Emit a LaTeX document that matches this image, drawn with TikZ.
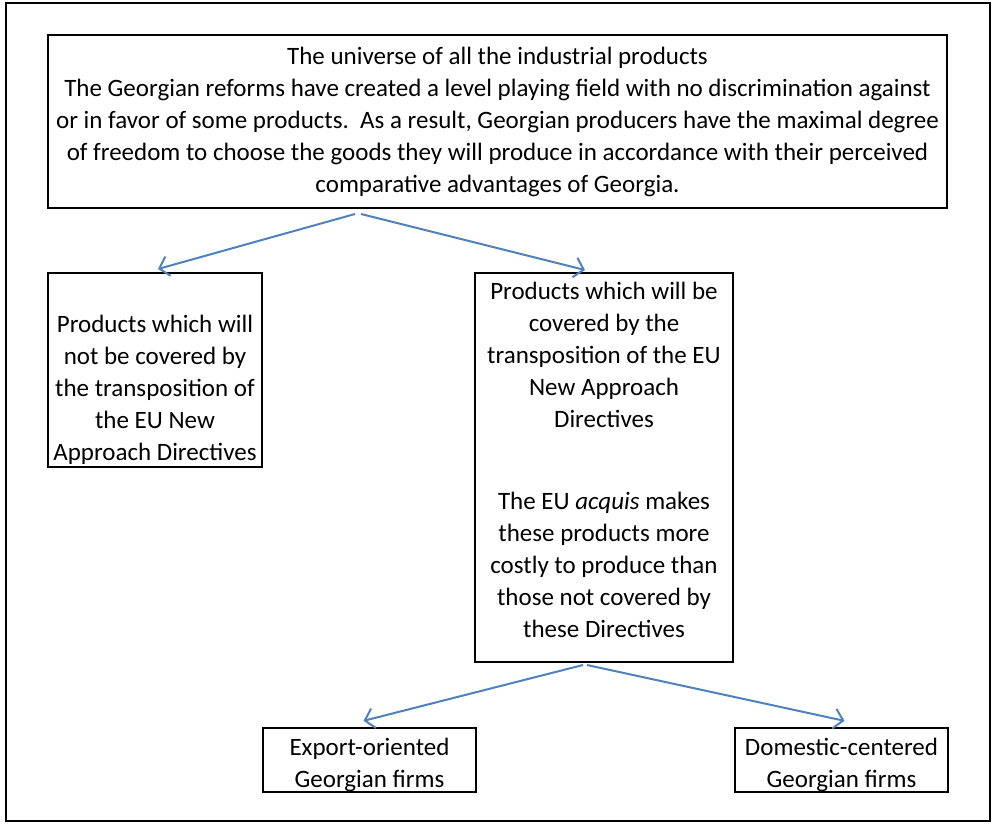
\documentclass[tikz,border=0pt]{standalone}
\usepackage{fontspec}
\setmainfont{Carlito}
\usetikzlibrary{arrows.meta}
\definecolor{officeblue}{RGB}{79,129,189}

\begin{document}
\begin{tikzpicture}[x=0.5pt, y=-0.5pt,
    box/.style={draw, line width=1pt, align=center, inner sep=0pt,
                font=\fontsize{12.5}{16}\selectfont},
    split/.style={draw=officeblue, line width=1pt,
                  -{Straight Barb[length=4.5pt, width=10pt]}}]
          \useasboundingbox (0,0) rectangle (992,826);
          \draw[line width=0.8pt] (6,3) rectangle (990,821);

          \node[box, minimum width=449.5pt, minimum height=86.5pt] (universe) at (497.5,121.5)
                {The universe of all the industrial products\\
                 The Georgian reforms have created a level playing field with no discrimination against\\
                 or in favor of some products.\ \ As a result, Georgian producers have the maximal degree\\
                 of freedom to choose the goods they will produce in accordance with their perceived\\
                 comparative advantages of Georgia.};
          \node[box, minimum width=107pt, minimum height=97pt] (notcovered) at (155,370)
                {\rule{0pt}{29pt}Products which will\\ not be covered by\\ the transposition of\\
                 the EU New\\ Approach Directives};
          \node[box, minimum width=129pt, minimum height=194.5pt] (covered) at (604,467.5)
                {Products which will be\\ covered by the\\ transposition of the EU\\
                 New Approach\\ Directives\\[25pt]
                 The EU \textit{acquis} makes\\ these products more\\ costly to produce than\\
                 those not covered by\\ these Directives\rule[-7.5pt]{0pt}{0pt}};
          \node[box, minimum width=106.5pt, minimum height=32pt] (export) at (369.5,760)
                {\rule{0pt}{14pt}Export-oriented\\ Georgian firms};
          \node[box, minimum width=106.5pt, minimum height=32pt] (domestic) at (841.5,760)
                {\rule{0pt}{14pt}Domestic-centered\\ Georgian firms};

          \coordinate (fork1) at (358,214);
          \coordinate (fork2) at (585,665);

          \draw[split] ([xshift=-1.5pt]fork1) -- ([shift={(1.5pt,1.5pt)}]notcovered.north);
          \draw[split] ([xshift=1.5pt]fork1)  -- ([shift={(-9.5pt,1pt)}]covered.north);
          \draw[split] ([xshift=-1pt]fork2)   -- ([shift={(-3pt,3pt)}]export.north);
          \draw[split] ([xshift=1pt]fork2)    -- ([shift={(1.5pt,3pt)}]domestic.north);
      \end{tikzpicture}
\end{document}
